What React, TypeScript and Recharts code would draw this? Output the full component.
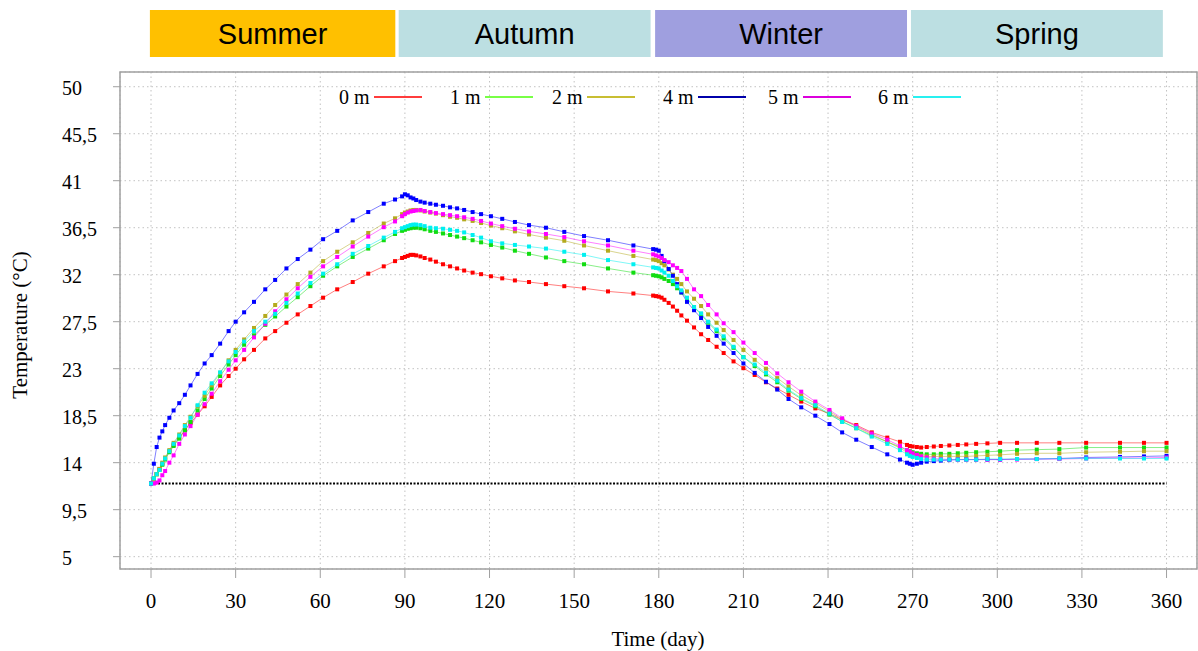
import React from 'react';
import { LineChart, Line, XAxis, YAxis, CartesianGrid, Legend, ReferenceLine, ReferenceArea, Label } from 'recharts';

// time steps (day) shared by all depths
const days = [
  0, 1, 2, 3, 4, 5, 6.5, 8, 10, 12, 14, 16.5, 19, 21.5, 24.5, 27.5, 30, 33, 36.5, 40.5, 44, 48, 52, 56.5, 61, 66, 71.5, 77, 82.5, 86.5,
  89, 90, 91, 92, 93, 94, 95.5, 97, 99, 101, 103.5, 106, 108.5, 111, 114, 117, 120.5, 124.5, 129, 134, 140, 146.5, 153.5, 162, 171,
  178, 179, 180, 181, 182, 183.5, 185, 186.5, 188, 190, 192.5, 195, 197.5, 200.5, 203, 206.5, 210, 214, 218, 222, 226, 230.5, 235.5, 240.5, 245, 250, 255.5, 261, 265.5,
  268, 269, 270, 271.5, 273, 275, 277.5, 280, 283, 286, 289, 292.5, 296.5, 301, 307, 314, 322, 331.5, 343.5, 352, 360,
];

const temp0m = [
  12.0, 12.4, 12.9, 13.4, 13.9, 14.4, 15.1, 15.7, 16.4, 17.1, 17.8, 18.6, 19.4, 20.3, 21.4, 22.3, 23.0, 23.9, 24.8, 25.9, 26.6, 27.4, 28.2, 29.0, 29.8, 30.6, 31.3, 32.1, 32.8, 33.3,
  33.6, 33.7, 33.8, 33.9, 33.9, 33.85, 33.75, 33.6, 33.45, 33.25, 33.0, 32.8, 32.6, 32.4, 32.2, 32.05, 31.85, 31.65, 31.45, 31.3, 31.1, 30.9, 30.7, 30.4, 30.2,
  30.0, 29.95, 29.9, 29.8, 29.6, 29.3, 28.95, 28.55, 28.1, 27.6, 26.95, 26.3, 25.75, 25.1, 24.5, 23.7, 23.05, 22.4, 21.7, 21.1, 20.5, 19.85, 19.2, 18.7, 18.1, 17.6, 16.9, 16.4, 16.0,
  15.7, 15.6, 15.55, 15.5, 15.45, 15.5, 15.55, 15.6, 15.65, 15.7, 15.75, 15.8, 15.85, 15.9, 15.9, 15.9, 15.9, 15.9, 15.9, 15.9, 15.9,
];

const temp1m = [
  12.0, 12.5, 12.9, 13.3, 13.8, 14.3, 15.0, 15.6, 16.3, 17.1, 17.9, 19.0, 20.1, 21.1, 22.3, 23.4, 24.3, 25.3, 26.2, 27.2, 28.0, 28.95, 29.85, 30.9, 31.9, 32.8, 33.7, 34.5, 35.3, 35.9,
  36.2, 36.3, 36.4, 36.45, 36.5, 36.5, 36.45, 36.35, 36.2, 36.1, 35.95, 35.8, 35.65, 35.5, 35.3, 35.1, 34.85, 34.6, 34.3, 34.0, 33.65, 33.3, 33.0, 32.6, 32.2,
  31.95, 31.9, 31.85, 31.75, 31.6, 31.4, 31.1, 30.7, 30.3, 29.7, 28.9, 28.2, 27.4, 26.6, 25.9, 25.0, 24.1, 23.25, 22.45, 21.7, 20.9, 20.1, 19.4, 18.6, 17.95, 17.3, 16.6, 16.0, 15.5,
  15.2, 15.1, 15.0, 14.9, 14.85, 14.8, 14.8, 14.85, 14.85, 14.9, 14.95, 15.0, 15.05, 15.1, 15.2, 15.25, 15.3, 15.45, 15.45, 15.45, 15.45,
];

const temp2m = [
  12.0, 12.4, 12.9, 13.4, 14.0, 14.5, 15.2, 15.9, 16.7, 17.6, 18.4, 19.4, 20.4, 21.4, 22.6, 23.8, 24.8, 25.8, 26.9, 28.05, 29.1, 30.1, 31.1, 32.2, 33.3, 34.2, 35.1, 36.0, 36.9, 37.4,
  37.8, 37.95, 38.05, 38.15, 38.2, 38.2, 38.15, 38.05, 37.95, 37.85, 37.7, 37.55, 37.45, 37.3, 37.15, 36.95, 36.7, 36.45, 36.15, 35.85, 35.55, 35.25, 34.8, 34.3, 33.8,
  33.45, 33.4, 33.3, 33.1, 32.9, 32.5, 32.0, 31.6, 31.1, 30.4, 29.7, 29.0, 28.2, 27.4, 26.7, 25.75, 24.8, 23.85, 23.0, 22.1, 21.3, 20.45, 19.7, 18.9, 18.15, 17.45, 16.7, 16.0, 15.4,
  15.0, 14.85, 14.75, 14.7, 14.65, 14.6, 14.6, 14.6, 14.6, 14.6, 14.6, 14.65, 14.7, 14.75, 14.85, 14.9, 14.9, 15.0, 15.05, 15.1, 15.1,
];

const temp4m = [
  12.0, 13.9, 15.5, 16.4, 17.0, 17.6, 18.3, 19.0, 19.7, 20.5, 21.4, 22.5, 23.5, 24.3, 25.4, 26.6, 27.5, 28.4, 29.4, 30.6, 31.5, 32.6, 33.5, 34.4, 35.4, 36.2, 37.2, 38.0, 38.8, 39.2,
  39.5, 39.7, 39.6, 39.4, 39.3, 39.15, 39.0, 38.9, 38.8, 38.7, 38.6, 38.45, 38.35, 38.2, 38.0, 37.8, 37.6, 37.35, 37.05, 36.75, 36.5, 36.1, 35.7, 35.3, 34.8,
  34.45, 34.4, 34.3, 33.8, 33.3, 32.55, 31.9, 31.1, 30.3, 29.4, 28.6, 27.85, 27.0, 26.15, 25.4, 24.5, 23.5, 22.6, 21.75, 21.0, 20.1, 19.3, 18.5, 17.7, 16.9, 16.2, 15.5, 14.8, 14.3,
  14.0, 13.9, 13.8, 13.9, 14.0, 14.1, 14.15, 14.2, 14.25, 14.3, 14.3, 14.3, 14.3, 14.3, 14.35, 14.35, 14.4, 14.5, 14.55, 14.6, 14.65,
];

const temp5m = [
  12.0, 12.0, 12.1, 12.3, 12.8, 13.2, 14.0, 14.7, 15.8, 16.7, 17.5, 18.6, 19.6, 20.6, 21.8, 22.9, 23.8, 24.8, 26.0, 27.3, 28.5, 29.65, 30.7, 31.8, 32.8, 33.7, 34.7, 35.65, 36.55, 37.1,
  37.6, 37.8, 37.95, 38.05, 38.1, 38.15, 38.2, 38.1, 38.0, 37.9, 37.8, 37.7, 37.6, 37.5, 37.35, 37.15, 36.9, 36.65, 36.4, 36.15, 35.9, 35.6, 35.2, 34.8, 34.3,
  33.95, 33.85, 33.75, 33.6, 33.4, 33.2, 32.9, 32.65, 32.35, 31.6, 30.6, 29.95, 29.1, 28.2, 27.35, 26.5, 25.5, 24.5, 23.55, 22.55, 21.7, 20.8, 19.85, 19.05, 18.25, 17.5, 16.8, 16.2, 15.6,
  15.2, 15.05, 14.9, 14.75, 14.6, 14.5, 14.4, 14.35, 14.3, 14.3, 14.3, 14.3, 14.3, 14.3, 14.3, 14.35, 14.35, 14.4, 14.45, 14.45, 14.5,
];

const temp6m = [
  12.0, 12.5, 12.9, 13.3, 13.9, 14.4, 15.1, 15.8, 16.6, 17.5, 18.3, 19.5, 20.7, 21.6, 22.65, 23.7, 24.6, 25.6, 26.6, 27.5, 28.25, 29.3, 30.2, 31.2, 32.1, 33.0, 34.0, 34.75, 35.55, 36.1,
  36.45, 36.55, 36.65, 36.75, 36.8, 36.8, 36.75, 36.65, 36.5, 36.45, 36.4, 36.3, 36.2, 36.05, 35.8, 35.55, 35.2, 35.0, 34.85, 34.7, 34.5, 34.2, 33.9, 33.4, 33.0,
  32.7, 32.65, 32.6, 32.4, 32.2, 31.9, 31.4, 30.9, 30.5, 29.8, 28.9, 28.3, 27.5, 26.75, 26.1, 25.1, 24.1, 23.4, 22.6, 21.85, 21.0, 20.2, 19.5, 18.7, 17.9, 17.3, 16.5, 15.8, 15.2,
  14.8, 14.65, 14.55, 14.45, 14.35, 14.3, 14.3, 14.3, 14.3, 14.3, 14.3, 14.3, 14.35, 14.35, 14.35, 14.35, 14.4, 14.4, 14.4, 14.4, 14.4,
];

const seriesNames = ['0 m', '1 m', '2 m', '4 m', '5 m', '6 m'];
const seriesTemps = [temp0m, temp1m, temp2m, temp4m, temp5m, temp6m];

const initialTemp = 12;

const seasons = ['Summer', 'Autumn', 'Winter', 'Spring'];
const seasonStart = [-0.4, 87.8, 178.7, 269.4];
const seasonEnd = [86.6, 177.1, 268.0, 358.7];

const xTicks = [0, 30, 60, 90, 120, 150, 180, 210, 240, 270, 300, 330, 360];
const yTicks = [5, 9.5, 14, 18.5, 23, 27.5, 32, 36.5, 41, 45.5, 50];

// styling
const markerColors = ['#ff0000', '#11dd11', '#b4aa1e', '#0000ff', '#ff00ff', '#00f0f0'];
const legendColors = ['#ff3c3c', '#78ff46', '#c8be32', '#0000aa', '#dc00dc', '#28f0f0'];
const seasonColors = ['#ffc000', '#bcdfe2', '#9f9fdf', '#bcdfe2'];
const legendLeft = [339, 450, 552, 663, 768, 878];
const xDomain = [-11, 370.8];
const yDomain = [3.82, 51.41];
const serif = 'Liberation Serif, Times New Roman, serif';
const sans = 'Liberation Sans, Arial, sans-serif';
const frameColor = '#a0a0a0';

const squareDot = (color: string) => (props: any) => {
  const { cx, cy, index } = props;
  if (cx == null || cy == null) return <g key={index} />;
  return <rect key={index} x={cx - 2} y={cy - 2} width={4} height={4} fill={color} />;
};

const XTick = (props: any) => {
  const { x, payload } = props;
  return (
    <text x={x} y={608} textAnchor="middle" fontSize={21} fontFamily={serif} fill="#000">
      {payload.value}
    </text>
  );
};

const YTick = (props: any) => {
  const { y, payload } = props;
  return (
    <text x={62} y={y} dy={8} textAnchor="start" fontSize={20} fontFamily={serif} fill="#000">
      {String(payload.value).replace('.', ',')}
    </text>
  );
};

const renderLegend = () => (
  <div style={{ position: 'relative', width: 1198, height: 26 }}>
    {seriesNames.map((name, i) => (
      <div
        key={name}
        style={{
          position: 'absolute',
          left: legendLeft[i],
          top: 0,
          height: 26,
          lineHeight: '26px',
          display: 'flex',
          alignItems: 'center',
          fontFamily: serif,
          fontSize: 20,
          color: '#000',
          whiteSpace: 'nowrap',
        }}
      >
        <span>{name}</span>
        <span style={{ display: 'inline-block', width: 48, height: 2, marginLeft: 4, background: legendColors[i] }} />
      </div>
    ))}
  </div>
);

function SeasonStrip() {
  const rows = seasons.map((s, i) => ({ day: seasonStart[i], mid: 0.5 }));
  return (
    <LineChart width={1198} height={60} data={rows} margin={{ top: 10, right: 1, bottom: 3, left: 120 }}>
      <XAxis dataKey="day" type="number" domain={xDomain} allowDataOverflow hide />
      <YAxis type="number" domain={[0, 1]} hide />
      {seasons.map((s, i) => (
        <ReferenceArea
          key={s}
          x1={seasonStart[i]}
          x2={seasonEnd[i]}
          y1={0}
          y2={1}
          fill={seasonColors[i]}
          fillOpacity={1}
          stroke="none"
          label={{ value: s, position: 'center', fontSize: 29, fill: '#000', fontFamily: sans }}
        />
      ))}
      <Line dataKey="mid" stroke="transparent" dot={false} isAnimationActive={false} legendType="none" />
    </LineChart>
  );
}

export default function App() {
  const rows = days.map((day, i) => {
    const r: any = { day };
    seriesTemps.forEach((t, k) => {
      r['s' + k] = t[i];
    });
    return r;
  });

  return (
    <div style={{ position: 'absolute', left: 0, top: 0, width: 1198, height: 651, background: '#fff' }}>
      <div style={{ position: 'absolute', left: 0, top: 0 }}>
        <LineChart width={1198} height={651} data={rows} margin={{ top: 72, right: 1, bottom: 0, left: 0 }}>
          <CartesianGrid stroke="#c2c2c2" strokeDasharray="1.5 3" />
          <XAxis
            dataKey="day"
            type="number"
            domain={xDomain}
            allowDataOverflow
            ticks={xTicks}
            interval={0}
            height={82}
            tickSize={9}
            axisLine={false}
            tickLine={{ stroke: frameColor }}
            tick={<XTick />}
          >
            <Label
              content={() => (
                <text x={658} y={646} textAnchor="middle" fontSize={21} fontFamily={serif} fill="#000">
                  Time (day)
                </text>
              )}
            />
          </XAxis>
          <YAxis
            type="number"
            domain={yDomain}
            allowDataOverflow
            ticks={yTicks}
            interval={0}
            width={120}
            tickSize={7}
            axisLine={false}
            tickLine={{ stroke: frameColor }}
            tick={<YTick />}
          >
            <Label
              content={() => (
                <text
                  x={20}
                  y={325}
                  transform="rotate(-90, 20, 325)"
                  textAnchor="middle"
                  dominantBaseline="central"
                  fontSize={21}
                  fontFamily={serif}
                  fill="#000"
                >
                  Temperature (°C)
                </text>
              )}
            />
          </YAxis>
          <ReferenceArea
            x1={xDomain[0]}
            x2={xDomain[1]}
            y1={yDomain[0]}
            y2={yDomain[1]}
            fill="none"
            stroke={frameColor}
            strokeWidth={1.5}
          />
          <ReferenceLine
            segment={[{ x: 0, y: initialTemp }, { x: 360, y: initialTemp }]}
            stroke="#000"
            strokeWidth={2}
            strokeDasharray="2 1.5"
          />
          {seriesNames.map((name, k) => (
            <Line
              key={name}
              name={name}
              dataKey={'s' + k}
              type="linear"
              stroke={markerColors[k]}
              strokeOpacity={0.5}
              strokeWidth={1}
              dot={squareDot(markerColors[k])}
              activeDot={false}
              isAnimationActive={false}
            />
          ))}
          <Legend
            layout="horizontal"
            verticalAlign="middle"
            align="center"
            wrapperStyle={{ top: 84, left: 0, width: 1198 }}
            content={renderLegend}
          />
        </LineChart>
      </div>
      <div style={{ position: 'absolute', left: 0, top: 0 }}>
        <SeasonStrip />
      </div>
    </div>
  );
}
